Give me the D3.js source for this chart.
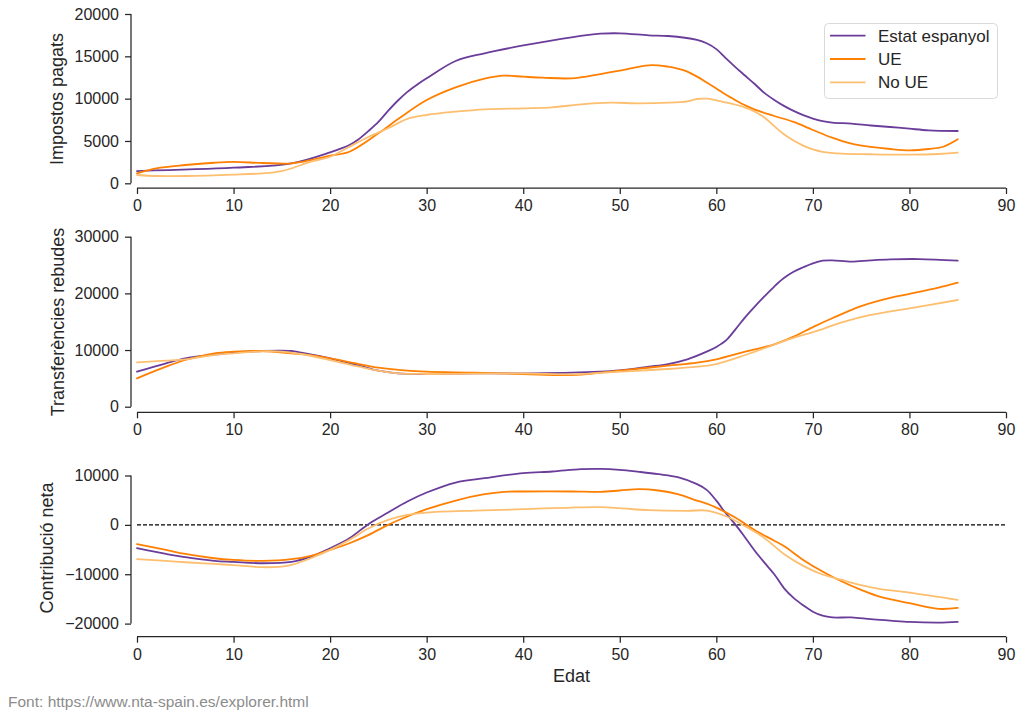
<!DOCTYPE html>
<html>
<head>
<meta charset="utf-8">
<script src="https://cdn.jsdelivr.net/npm/d3@7"></script>
<style>
  html, body { margin: 0; padding: 0; background: #fff; }
  svg { display: block; font-family: "Liberation Sans", Arial, sans-serif; }
</style>
</head>
<body>
<svg id="chart" width="1024" height="719"></svg>
<script>
// ---------- Data ----------
const seriesNames = ["Estat espanyol", "UE", "No UE"];
const seriesColors = ["#6a3d9a", "#ff7f00", "#fdbf6f"];
const xTicks = [0, 10, 20, 30, 40, 50, 60, 70, 80, 90];

const panelLabels = ["Impostos pagats", "Transferències rebudes", "Contribució neta"];
const yTicksTaxes = [0, 5000, 10000, 15000, 20000];
const yTicksTransfers = [0, 10000, 20000, 30000];
const yTicksNet = [-20000, -10000, 0, 10000];

// Panel 1: Impostos pagats
const taxEsAges = [0, 10, 16, 20, 22, 23, 24, 25, 26, 27, 28, 29, 30, 33, 36, 40, 45, 48, 50, 53, 55, 58, 59, 60, 61, 62, 63, 64, 65, 66, 67, 68, 69, 70, 71, 72, 74, 76, 78, 80, 82, 85];
const taxEsVals = [1450, 1840, 2360, 3660, 4520, 5250, 6200, 7250, 8550, 9750, 10800, 11650, 12400, 14450, 15360, 16280, 17250, 17670, 17720, 17480, 17400, 16930, 16540, 15850, 14750, 13700, 12700, 11700, 10650, 9850, 9150, 8550, 8050, 7650, 7350, 7180, 7040, 6830, 6650, 6450, 6260, 6180];
const taxUeAges = [0, 2, 5, 8, 10, 13, 16, 18, 20, 22, 25, 27, 30, 33, 36, 38, 40, 42, 45, 48, 50, 53, 55, 56, 57, 58, 59, 60, 61, 62, 63, 64, 66, 68, 70, 72, 74, 76, 78, 80, 82, 83.5, 85];
const taxUeVals = [1180, 1770, 2160, 2430, 2520, 2400, 2360, 2750, 3260, 3730, 5900, 7560, 9840, 11340, 12360, 12710, 12590, 12480, 12400, 12910, 13300, 13940, 13780, 13550, 13200, 12600, 11900, 11200, 10450, 9800, 9200, 8700, 7950, 7250, 6300, 5390, 4680, 4300, 4050, 3900, 4050, 4320, 5200];
const taxNoUeAges = [0, 2, 5, 10, 13, 15, 16, 18, 20, 22, 24, 26, 28, 30, 33, 36, 40, 43, 46, 49, 52, 55, 57, 58, 59, 61, 63, 64, 65, 66, 67, 68, 69, 70, 71, 73, 76, 80, 83, 85];
const taxNoUeVals = [980, 860, 860, 1020, 1180, 1450, 1770, 2550, 3140, 4320, 5500, 6500, 7600, 8070, 8460, 8740, 8860, 8980, 9330, 9520, 9450, 9520, 9690, 9960, 10000, 9550, 8950, 8450, 7750, 6750, 5800, 5050, 4450, 4000, 3720, 3500, 3430, 3390, 3460, 3620];

// Panel 2: Transferències rebudes
const trEsAges = [0, 3, 5, 8, 10, 13, 16, 17, 20, 23, 25, 27, 30, 35, 40, 45, 50, 53, 55, 57, 59, 60, 61, 62, 63, 64, 65, 66, 67, 68, 69, 70, 71, 72, 74, 76, 78, 81, 85];
const trEsVals = [6180, 7660, 8540, 9180, 9530, 9830, 9830, 9530, 8540, 7240, 6350, 5890, 5770, 5890, 5890, 6000, 6420, 7060, 7530, 8360, 9710, 10550, 11700, 13700, 15800, 17700, 19500, 21200, 22700, 23800, 24600, 25300, 25770, 25830, 25590, 25830, 26000, 26060, 25770];
const trUeAges = [0, 3, 5, 8, 10, 13, 16, 18, 20, 23, 25, 28, 30, 35, 40, 45, 48, 50, 55, 58, 60, 63, 66, 68, 70, 72, 75, 78, 80, 83, 85];
const trUeVals = [5000, 7060, 8240, 9420, 9710, 9830, 9420, 9120, 8540, 7530, 6880, 6350, 6180, 6000, 5770, 5590, 6000, 6350, 7240, 7770, 8360, 9710, 11000, 12360, 14050, 15600, 17750, 19200, 19900, 21000, 21880];
const trNoUeAges = [0, 3, 5, 8, 10, 13, 15, 17, 20, 23, 25, 27, 30, 40, 45, 50, 55, 58, 60, 63, 66, 68, 70, 71, 73, 76, 80, 85];
const trNoUeVals = [7830, 8120, 8360, 9120, 9420, 9770, 9710, 9300, 8240, 7060, 6350, 5890, 5770, 5890, 5710, 6180, 6650, 7060, 7530, 9120, 10950, 12150, 13150, 13700, 14900, 16200, 17360, 18830];

// Panel 3: Contribució neta
const netEsAges = [0, 3, 5, 8, 10, 13, 16, 18, 20, 22, 24, 26, 28, 30, 33, 36, 40, 43, 46, 48, 50, 52, 54, 56, 58, 59, 60, 61, 62, 63, 64, 65, 66, 67, 68, 69, 70, 71, 72, 74, 76, 78, 80, 83, 85];
const netEsVals = [-4730, -5880, -6550, -7290, -7500, -7770, -7500, -6420, -4730, -2700, 200, 2500, 4730, 6550, 8580, 9450, 10470, 10810, 11280, 11350, 11150, 10740, 10270, 9660, 8240, 7090, 4900, 2300, 0, -2600, -5300, -7700, -10000, -12800, -14800, -16300, -17600, -18400, -18750, -18750, -19110, -19390, -19660, -19800, -19660];
const netUeAges = [0, 3, 5, 8, 10, 13, 16, 18, 20, 22, 24, 26, 28, 30, 33, 36, 38, 40, 45, 48, 50, 52, 54, 56, 58, 59, 60, 62, 64, 66, 67, 69, 71, 73, 75, 77, 80, 83, 85];
const netUeVals = [-3920, -5070, -5880, -6760, -7090, -7290, -6960, -6280, -5070, -3720, -2030, 0, 1690, 3170, 4930, 6210, 6690, 6760, 6760, 6690, 6960, 7230, 6960, 6210, 4900, 4300, 3500, 1450, -1100, -3200, -4300, -7100, -9460, -11480, -13170, -14600, -15870, -17020, -16820];
const netNoUeAges = [0, 3, 5, 8, 10, 13, 15, 16, 18, 20, 22, 24, 26, 28, 30, 35, 40, 45, 48, 50, 53, 57, 59, 61, 63, 65, 67, 69, 71, 73, 75, 77, 80, 85];
const netNoUeVals = [-6960, -7290, -7570, -7900, -8170, -8580, -8440, -8110, -6760, -5070, -3040, -680, 1010, 2030, 2500, 2900, 3170, 3510, 3580, 3380, 2970, 2840, 2900, 1750, -300, -2700, -5900, -8300, -10050, -11150, -12200, -13000, -13710, -15200];

const sourceText = "Font: https://www.nta-spain.es/explorer.html";
const xLabel = "Edat";

// ---------- Layout ----------
const svg = d3.select("#chart");
const textColor = "#262626";
const x = d3.scaleLinear().domain([0, 90]).range([137, 1006]);

const panels = [
  { label: panelLabels[0], ticks: yTicksTaxes, domain: [0, 20000], range: [183.3, 14],
    axisY: 188, labelX: 63, labelY: 99,
    series: [[taxEsAges, taxEsVals], [taxUeAges, taxUeVals], [taxNoUeAges, taxNoUeVals]] },
  { label: panelLabels[1], ticks: yTicksTransfers, domain: [0, 30000], range: [406.7, 236.7],
    axisY: 412.3, labelX: 63.5, labelY: 322,
    series: [[trEsAges, trEsVals], [trUeAges, trUeVals], [trNoUeAges, trNoUeVals]] },
  { label: panelLabels[2], ticks: yTicksNet, domain: [-20000, 10000], range: [623.6, 475.5],
    axisY: 636.7, labelX: 53, labelY: 548, zeroLine: true,
    series: [[netEsAges, netEsVals], [netUeAges, netUeVals], [netNoUeAges, netNoUeVals]] }
];

function styleAxis(g) {
  g.selectAll(".domain").attr("stroke", textColor).attr("stroke-width", 1.25);
  g.selectAll(".tick line").attr("stroke", textColor).attr("stroke-width", 1.25);
  g.selectAll(".tick text").attr("fill", textColor).style("font-size", "16px")
    .style("font-family", '"Liberation Sans", Arial, sans-serif');
}

panels.forEach((p) => {
  const y = d3.scaleLinear().domain(p.domain).range(p.range);

  if (p.zeroLine) {
    svg.append("line")
      .attr("x1", x(0)).attr("x2", x(90))
      .attr("y1", y(0)).attr("y2", y(0))
      .attr("stroke", "#000").attr("stroke-width", 1.1)
      .attr("stroke-dasharray", "4,2");
  }

  const line = d3.line().x(d => x(d[0])).y(d => y(d[1])).curve(d3.curveCatmullRom.alpha(0.5));
  p.series.forEach((s, si) => {
    const pts = s[0].map((a, i) => [a, s[1][i]]);
    svg.append("path").datum(pts)
      .attr("d", line)
      .attr("fill", "none")
      .attr("stroke", seriesColors[si])
      .attr("stroke-width", 1.8)
      .attr("stroke-linejoin", "round")
      .attr("stroke-linecap", "round");
  });

  const yAxis = d3.axisLeft(y).tickValues(p.ticks).tickSize(6).tickPadding(6).tickSizeOuter(0)
    .tickFormat(d => d < 0 ? "\u2212" + Math.abs(d) : String(d));
  const gy = svg.append("g").attr("transform", "translate(131,0)").call(yAxis);
  gy.select(".domain").attr("d", `M0,${y(p.ticks[0])}V${y(p.ticks[p.ticks.length - 1])}`);
  styleAxis(gy);

  const xAxis = d3.axisBottom(x).tickValues(xTicks).tickSize(6).tickPadding(5.5).tickSizeOuter(0);
  const gx = svg.append("g").attr("transform", `translate(0,${p.axisY})`).call(xAxis);
  gx.select(".domain").attr("d", `M${x(0)},0H${x(90)}`);
  styleAxis(gx);

  svg.append("text")
    .attr("transform", `translate(${p.labelX},${p.labelY}) rotate(-90)`)
    .attr("text-anchor", "middle")
    .attr("fill", textColor)
    .style("font-size", "18px")
    .text(p.label);
});

svg.append("text")
  .attr("x", x(45)).attr("y", 681.5)
  .attr("text-anchor", "middle")
  .attr("fill", textColor)
  .style("font-size", "18px")
  .text(xLabel);

svg.append("text")
  .attr("x", 8).attr("y", 706.5)
  .attr("fill", "#8c8c8c")
  .style("font-size", "15.5px")
  .text(sourceText);

const lg = svg.append("g").attr("transform", "translate(824,23)");
lg.append("rect")
  .attr("x", 0.5).attr("y", 0.5).attr("width", 173).attr("height", 75)
  .attr("rx", 4).attr("ry", 4)
  .attr("fill", "#fff").attr("fill-opacity", 0.8)
  .attr("stroke", "#d9d9d9").attr("stroke-width", 1);
seriesNames.forEach((n, i) => {
  const yy = 12.7 + i * 23.3;
  lg.append("line")
    .attr("x1", 6).attr("x2", 41.5).attr("y1", yy).attr("y2", yy)
    .attr("stroke", seriesColors[i]).attr("stroke-width", 1.8);
  lg.append("text")
    .attr("x", 54).attr("y", yy + 6)
    .attr("fill", textColor)
    .style("font-size", "17px")
    .text(n);
});
</script>
</body>
</html>
